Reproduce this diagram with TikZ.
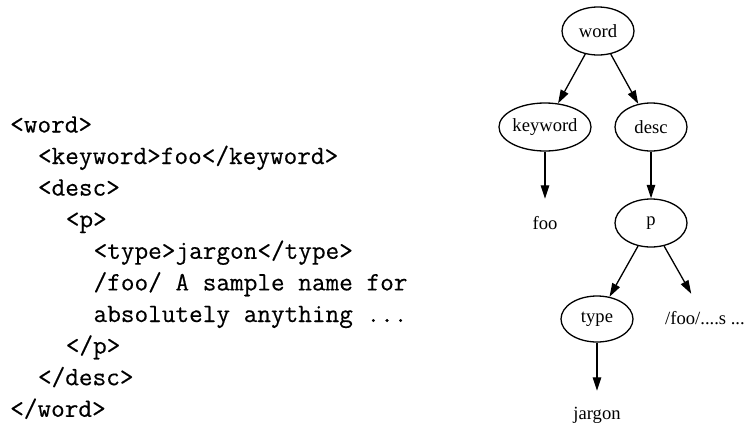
\documentclass[tikz,border=0pt]{standalone}
\usepackage{fontspec}
\setmainfont{Liberation Serif}
\newfontfamily\codefont[FakeBold=0.35]{Latin Modern Mono}
\usetikzlibrary{arrows.meta,shapes.geometric}

\tikzset{
  xmlline/.style={anchor=base west, inner sep=0pt, font=\codefont\fontsize{26.5}{31.7}\selectfont},
  elem/.style={draw, ellipse, line width=1.3pt, inner sep=0pt,
               minimum width=72pt, minimum height=48pt,
               font=\fontsize{18.6}{22}\selectfont},
  leaf/.style={rectangle, inner sep=0pt, minimum height=48pt,
               font=\fontsize{18.6}{22}\selectfont},
  edge/.style={line width=1.3pt, -{Triangle[length=13.5pt,width=8.5pt]}}
}

\begin{document}
\begin{tikzpicture}[x=1pt,y=-1pt]
  \useasboundingbox (0,0) rectangle (747,426);

  % XML source, one node per line (indent step = two characters)
  \node[xmlline] (l0) at (10.0,132.5) {<word>};
  \node[xmlline] (l1) at (37.8,164.0) {<keyword>foo</keyword>};
  \node[xmlline] (l2) at (37.8,195.6) {<desc>};
  \node[xmlline] (l3) at (65.6,227.2) {<p>};
  \node[xmlline] (l4) at (93.4,258.8) {<type>jargon</type>};
  \node[xmlline] (l5) at (93.4,290.4) {/foo/ A sample name for};
  \node[xmlline] (l6) at (93.4,322.0) {absolutely anything ...};
  \node[xmlline] (l7) at (65.6,353.6) {</p>};
  \node[xmlline] (l8) at (37.8,385.2) {</desc>};
  \node[xmlline] (l9) at (10.0,416.8) {</word>};

  % element tree
  \node[elem] (word)    at (598,31)  {word};
  \node[elem, minimum width=91pt] (keyword) at (545,127) {keyword};
  \node[elem] (desc)    at (651,127) {desc};
  \node[leaf] (foo)     at (545,223) {foo};
  \node[elem] (p)       at (651,223) {p};
  \node[elem, minimum height=46pt] (type) at (597,319) {type};
  \node[leaf] (text)    at (705,318) {/foo/....s ...};
  \node[leaf] (jargon)  at (597,415) {jargon};

  \draw[edge] (word) -- (keyword);
  \draw[edge] (word) -- (desc);
  \draw[edge] (keyword) -- (foo);
  \draw[edge] (desc) -- (p);
  \draw[edge] (p) -- (type);
  \draw[edge] (p) -- (text);
  \draw[edge] (type) -- (jargon);
\end{tikzpicture}
\end{document}
